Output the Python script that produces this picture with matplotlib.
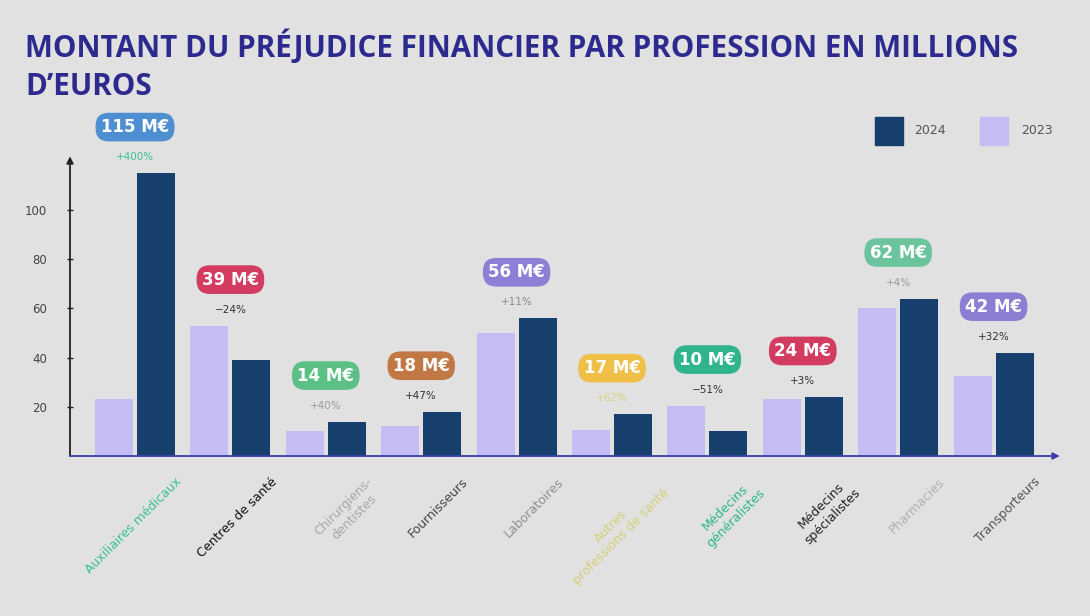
import matplotlib
matplotlib.use("Agg")
import matplotlib.pyplot as plt
import numpy as np

# ---- data ----
categories = ["Auxiliaires médicaux", "Centres de santé", "Chirurgiens-\ndentistes",
              "Fournisseurs", "Laboratoires", "Autres\nprofessions de santé",
              "Médecins\ngénéralistes", "Médecins\nspécialistes", "Pharmacies",
              "Transporteurs"]
values_2023 = [23, 53, 10, 12, 50, 10.5, 20.5, 23, 60, 32.5]
values_2024 = [115, 39, 14, 18, 56, 17, 10, 24, 64, 42]
badge_labels = ["115 M€", "39 M€", "14 M€", "18 M€", "56 M€", "17 M€",
                "10 M€", "24 M€", "62 M€", "42 M€"]
pct_labels = ["+400%", "−24%", "+40%", "+47%", "+11%", "+62%",
              "−51%", "+3%", "+4%", "+32%"]
yticks = [20, 40, 60, 80, 100]

# ---- styles ----
BG = "#e1e1e1"
DARK = "#173f6e"
LIGHT = "#c4bdf3"
TITLE_C = "#2c2a8e"
badge_colors = ["#4d8fd1", "#d33c60", "#5bbf86", "#c27845", "#8c7fd5",
                "#f0bf48", "#2fb48c", "#d33c60", "#6cc49f", "#8a7fd3"]
pct_colors = ["#3dbf93", "#333333", "#9a9a9a", "#333333", "#8a8a8a",
              "#d8d27a", "#333333", "#333333", "#9a9a9a", "#333333"]
label_colors = ["#38c195", "#111111", "#a8a8a8", "#444444", "#8f8f8f",
                "#d3cf78", "#2bb58c", "#222222", "#b0b0b0", "#555555"]

W, H = 1090, 616
fig = plt.figure(figsize=(W / 100, H / 100), dpi=100, facecolor=BG)

# axes spanning from x=70px to 1050px, y: 0 at 456px, top at 165px
ax_l, ax_r = 70, 1050
ax_b, ax_t = 456, 165
ax = fig.add_axes([ax_l / W, 1 - ax_b / H, (ax_r - ax_l) / W, (ax_b - ax_t) / H])
ax.set_facecolor(BG)

px_per_cat = 95.4
x0_px = 135
xmin = (ax_l - x0_px) / px_per_cat
xmax = (ax_r - x0_px) / px_per_cat
px_per_unit = 2.46
ymax = (ax_b - ax_t) / px_per_unit
ax.set_xlim(xmin, xmax)
ax.set_ylim(0, ymax)

x = np.arange(len(categories))
bw = 0.40
ax.bar(x - 0.22, values_2023, width=bw, color=LIGHT, zorder=2)
ax.bar(x + 0.22, values_2024, width=bw, color=DARK, zorder=2)

for s in ax.spines.values():
    s.set_visible(False)

# axes arrows
ax.annotate("", xy=(0, 1.03), xytext=(0, 0), xycoords="axes fraction",
            arrowprops=dict(arrowstyle="-|>", color="#222222", lw=1.3,
                            mutation_scale=10, shrinkA=0, shrinkB=0),
            annotation_clip=False)
ax.annotate("", xy=(1.01, 0), xytext=(0, 0), xycoords="axes fraction",
            arrowprops=dict(arrowstyle="-|>", color="#3a3fa8", lw=1.3,
                            mutation_scale=10, shrinkA=0, shrinkB=0),
            annotation_clip=False)

ax.set_yticks(yticks)
ax.set_yticklabels([str(t) for t in yticks], fontsize=8.5, color="#444444")
ax.tick_params(axis="y", length=5, width=1, color="#222222", pad=14, direction="inout")
ax.set_xticks([])

# x labels
for i, (lab, c) in enumerate(zip(categories, label_colors)):
    ax.annotate(lab, xy=(i + 0.42, 0), xycoords="data",
                xytext=(0, -14), textcoords="offset points",
                rotation=45, ha="right", va="top", rotation_mode="anchor",
                fontsize=9, color=c, multialignment="center",
                annotation_clip=False)

# badges and percentages
for i in range(len(categories)):
    top = max(values_2023[i], values_2024[i])
    ax.annotate(pct_labels[i], xy=(i, top), xytext=(0, 16),
                textcoords="offset pixels", ha="center", va="center",
                fontsize=7.5, color=pct_colors[i], annotation_clip=False)
    ax.annotate(badge_labels[i], xy=(i, top), xytext=(0, 46),
                textcoords="offset pixels", ha="center", va="center",
                fontsize=12, fontweight="bold", color="white",
                bbox=dict(boxstyle="round,pad=0.32,rounding_size=0.8",
                          fc=badge_colors[i], ec="none"),
                annotation_clip=False)

# legend
fig.patches.append(plt.Rectangle((875 / W, 1 - 145 / H), 28 / W, 28 / H,
                                 transform=fig.transFigure, color=DARK))
fig.text(914 / W, 1 - 131 / H, "2024", fontsize=9, color="#555555", va="center")
fig.patches.append(plt.Rectangle((980 / W, 1 - 145 / H), 28 / W, 28 / H,
                                 transform=fig.transFigure, color=LIGHT))
fig.text(1021 / W, 1 - 131 / H, "2023", fontsize=9, color="#555555", va="center")

# title
fig.text(25 / W, 1 - 47 / H, "MONTANT DU PRÉJUDICE FINANCIER PAR PROFESSION EN MILLIONS",
         fontsize=21.3, fontweight="bold", color=TITLE_C, va="center",
         family=["Open Sans", "DejaVu Sans"])
fig.text(25 / W, 1 - 87 / H, "D’EUROS",
         fontsize=21.3, fontweight="bold", color=TITLE_C, va="center",
         family=["Open Sans", "DejaVu Sans"])

fig.savefig("out.png", dpi=100, facecolor=BG)
